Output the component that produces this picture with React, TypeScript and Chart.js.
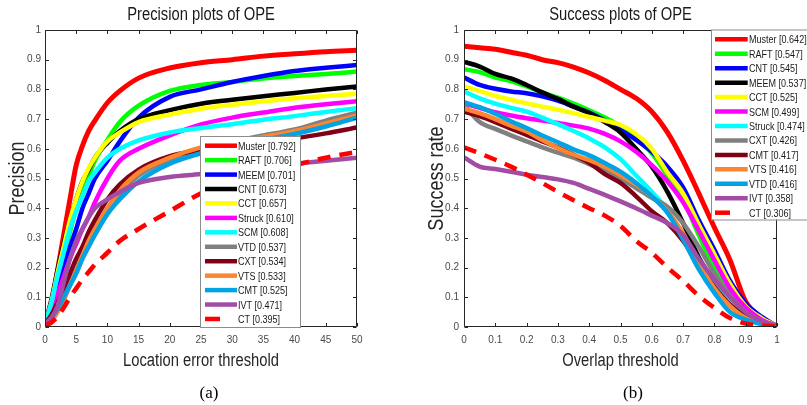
import React, { useEffect, useRef } from "react";
import { Chart, registerables } from "chart.js";

Chart.register(...registerables);

const SANS = "'Liberation Sans', Arial, Helvetica, sans-serif";
const SQUEEZE = 0.82; // the reference uses a narrow Helvetica-like face

// ---------- Precision plot (location error threshold) ----------
const precThresholds = [0, 1, 2, 3, 4, 5, 6, 7, 8, 10, 12, 15, 20, 25, 30, 35, 40, 45, 50];
const precMuster = [0.01, 0.07, 0.19, 0.31, 0.43, 0.545, 0.61, 0.66, 0.695, 0.755, 0.795, 0.838, 0.872, 0.89, 0.9, 0.912, 0.92, 0.927, 0.932];
const precRAFT = [0.01, 0.07, 0.15, 0.24, 0.32, 0.4, 0.46, 0.51, 0.56, 0.63, 0.69, 0.745, 0.795, 0.815, 0.825, 0.837, 0.845, 0.852, 0.86];
const precMEEM = [0.01, 0.05, 0.12, 0.2, 0.27, 0.33, 0.4, 0.45, 0.5, 0.56, 0.625, 0.705, 0.775, 0.8, 0.825, 0.845, 0.862, 0.873, 0.882];
const precCNT = [0.01, 0.09, 0.19, 0.28, 0.36, 0.43, 0.49, 0.53, 0.57, 0.62, 0.66, 0.7, 0.73, 0.752, 0.765, 0.777, 0.788, 0.8, 0.81];
const precCCT = [0.01, 0.08, 0.18, 0.27, 0.36, 0.43, 0.49, 0.535, 0.57, 0.625, 0.655, 0.69, 0.715, 0.735, 0.748, 0.76, 0.77, 0.778, 0.785];
const precStruck = [0.01, 0.05, 0.11, 0.17, 0.23, 0.28, 0.33, 0.37, 0.42, 0.5, 0.56, 0.6, 0.645, 0.682, 0.705, 0.722, 0.738, 0.75, 0.76];
const precSCM = [0.01, 0.08, 0.17, 0.25, 0.33, 0.39, 0.44, 0.49, 0.52, 0.57, 0.6, 0.628, 0.655, 0.67, 0.683, 0.698, 0.71, 0.724, 0.737];
const precVTD = [0.01, 0.03, 0.07, 0.11, 0.16, 0.2, 0.25, 0.29, 0.33, 0.4, 0.45, 0.51, 0.565, 0.6, 0.625, 0.645, 0.665, 0.695, 0.722];
const precCXT = [0.01, 0.04, 0.08, 0.13, 0.18, 0.23, 0.27, 0.32, 0.36, 0.43, 0.48, 0.53, 0.575, 0.595, 0.61, 0.622, 0.635, 0.652, 0.672];
const precVTS = [0.01, 0.02, 0.05, 0.09, 0.14, 0.19, 0.24, 0.29, 0.33, 0.4, 0.46, 0.52, 0.57, 0.605, 0.625, 0.64, 0.66, 0.685, 0.712];
const precCMT = [0.01, 0.03, 0.06, 0.1, 0.14, 0.18, 0.23, 0.27, 0.31, 0.38, 0.43, 0.49, 0.55, 0.585, 0.61, 0.63, 0.65, 0.675, 0.705];
const precIVT = [0.01, 0.03, 0.07, 0.15, 0.23, 0.29, 0.33, 0.37, 0.4, 0.43, 0.455, 0.485, 0.505, 0.515, 0.53, 0.54, 0.55, 0.56, 0.57];
const precCT = [0.005, 0.015, 0.035, 0.065, 0.1, 0.13, 0.16, 0.185, 0.21, 0.25, 0.29, 0.33, 0.39, 0.45, 0.49, 0.52, 0.545, 0.57, 0.59];

const precLegend = [
  "Muster [0.792]", "RAFT [0.706]", "MEEM [0.701]", "CNT [0.673]", "CCT [0.657]", "Struck [0.610]",
  "SCM [0.608]", "VTD [0.537]", "CXT [0.534]", "VTS [0.533]", "CMT [0.525]", "IVT [0.471]", "CT [0.395]",
];
const precSeries = [precMuster, precRAFT, precMEEM, precCNT, precCCT, precStruck, precSCM, precVTD, precCXT, precVTS, precCMT, precIVT, precCT];
const precXTicks = { min: 0, max: 50, step: 5 };

// ---------- Success plot (overlap threshold) ----------
const succThresholds = [0, 0.05, 0.1, 0.15, 0.2, 0.25, 0.3, 0.35, 0.4, 0.45, 0.5, 0.55, 0.6, 0.65, 0.7, 0.75, 0.8, 0.85, 0.9, 0.95, 1];
const succMuster = [0.945, 0.94, 0.935, 0.925, 0.915, 0.9, 0.89, 0.875, 0.855, 0.83, 0.8, 0.77, 0.725, 0.655, 0.56, 0.45, 0.335, 0.225, 0.085, 0.03, 0.003];
const succRAFT = [0.868, 0.858, 0.84, 0.828, 0.81, 0.79, 0.772, 0.752, 0.73, 0.705, 0.675, 0.635, 0.585, 0.51, 0.43, 0.31, 0.2, 0.115, 0.06, 0.02, 0.003];
const succCNT = [0.84, 0.815, 0.802, 0.793, 0.787, 0.777, 0.762, 0.742, 0.722, 0.695, 0.664, 0.63, 0.59, 0.54, 0.47, 0.36, 0.26, 0.155, 0.08, 0.035, 0.003];
const succMEEM = [0.893, 0.877, 0.852, 0.837, 0.815, 0.79, 0.768, 0.742, 0.72, 0.69, 0.655, 0.6, 0.54, 0.455, 0.35, 0.235, 0.15, 0.08, 0.04, 0.015, 0.002];
const succCCT = [0.81, 0.795, 0.778, 0.765, 0.753, 0.742, 0.732, 0.72, 0.707, 0.695, 0.68, 0.65, 0.6, 0.52, 0.45, 0.345, 0.245, 0.145, 0.07, 0.03, 0.003];
const succSCM = [0.753, 0.738, 0.723, 0.712, 0.703, 0.695, 0.687, 0.678, 0.668, 0.65, 0.625, 0.59, 0.545, 0.49, 0.42, 0.325, 0.225, 0.13, 0.065, 0.025, 0.003];
const succStruck = [0.793, 0.77, 0.752, 0.738, 0.725, 0.705, 0.683, 0.66, 0.635, 0.605, 0.565, 0.51, 0.455, 0.393, 0.305, 0.225, 0.15, 0.09, 0.045, 0.018, 0.002];
const succCXT = [0.748, 0.69, 0.667, 0.645, 0.625, 0.605, 0.587, 0.57, 0.548, 0.525, 0.5, 0.468, 0.435, 0.405, 0.35, 0.27, 0.18, 0.105, 0.05, 0.02, 0.002];
const succCMT = [0.725, 0.71, 0.69, 0.668, 0.647, 0.625, 0.605, 0.58, 0.553, 0.515, 0.485, 0.44, 0.39, 0.35, 0.29, 0.21, 0.135, 0.075, 0.035, 0.015, 0.002];
const succVTS = [0.735, 0.72, 0.7, 0.678, 0.658, 0.63, 0.603, 0.58, 0.562, 0.54, 0.512, 0.48, 0.44, 0.39, 0.315, 0.215, 0.13, 0.07, 0.03, 0.012, 0.002];
const succVTD = [0.757, 0.74, 0.718, 0.693, 0.67, 0.645, 0.622, 0.598, 0.578, 0.552, 0.523, 0.485, 0.44, 0.385, 0.295, 0.195, 0.115, 0.05, 0.025, 0.01, 0.002];
const succIVT = [0.571, 0.54, 0.532, 0.523, 0.513, 0.505, 0.497, 0.485, 0.465, 0.445, 0.423, 0.4, 0.375, 0.35, 0.31, 0.23, 0.16, 0.1, 0.05, 0.02, 0.002];
const succCT = [0.605, 0.585, 0.563, 0.54, 0.513, 0.485, 0.455, 0.427, 0.4, 0.375, 0.34, 0.29, 0.25, 0.2, 0.155, 0.105, 0.065, 0.03, 0.012, 0.005, 0.001];

const succLegend = [
  "Muster [0.642]", "RAFT [0.547]", "CNT [0.545]", "MEEM [0.537]", "CCT [0.525]", "SCM [0.499]",
  "Struck [0.474]", "CXT [0.426]", "CMT [0.417]", "VTS [0.416]", "VTD [0.416]", "IVT [0.358]", "CT [0.306]",
];
const succSeries = [succMuster, succRAFT, succCNT, succMEEM, succCCT, succSCM, succStruck, succCXT, succCMT, succVTS, succVTD, succIVT, succCT];
const succXTicks = { min: 0, max: 1, step: 0.1 };

const yTicks = { min: 0, max: 1, step: 0.1 };

// colour by rank (same in both plots)
const rankColors = [
  "#ff0000", "#00ff00", "#0000ff", "#000000", "#ffff00", "#ff00ff", "#00ffff",
  "#808080", "#800016", "#fd8530", "#00a3e4", "#a24ca6", "#ff0000",
];
const dashedRank = 12;

const fmt = (v: any) => String(Math.round(Number(v) * 10) / 10);

function squeezedText(ctx: any, text: string, x: number, y: number, size: number, rotate = false) {
  ctx.save();
  ctx.translate(x, y);
  if (rotate) ctx.rotate(-Math.PI / 2);
  ctx.scale(SQUEEZE, 1);
  ctx.font = `${size}px ${SANS}`;
  ctx.textAlign = "center";
  ctx.textBaseline = "alphabetic";
  ctx.fillText(text, 0, 0);
  ctx.restore();
}

const framePlugin = {
  id: "frameTicks",
  afterDatasetsDraw(chart: any) {
    const { ctx, chartArea: a, scales } = chart;
    ctx.save();
    ctx.strokeStyle = "#262626";
    ctx.lineWidth = 1;
    const L = Math.round(a.left) + 0.5;
    const R = Math.round(a.right) - 0.5;
    const T = Math.round(a.top) + 0.5;
    const B = Math.round(a.bottom) - 0.5;
    ctx.beginPath();
    ctx.rect(L, T, R - L, B - T);
    ctx.stroke();
    const tl = 3.5;
    ctx.beginPath();
    scales.x.ticks.forEach((t: any) => {
      const px = Math.round(scales.x.getPixelForValue(t.value)) + 0.5;
      ctx.moveTo(px, B);
      ctx.lineTo(px, B - tl);
      ctx.moveTo(px, T);
      ctx.lineTo(px, T + tl);
    });
    scales.y.ticks.forEach((t: any) => {
      const py = Math.round(scales.y.getPixelForValue(t.value)) + 0.5;
      ctx.moveTo(L, py);
      ctx.lineTo(L + tl, py);
      ctx.moveTo(R, py);
      ctx.lineTo(R - tl, py);
    });
    ctx.stroke();
    ctx.restore();
  },
};

interface LegendCfg {
  x: number; y: number; w: number; h: number;
  row0: number; step: number; s0: number; s1: number; tx: number;
}

interface TextCfg {
  title: string; xTitle: string; yTitle: string;
  titleBase: number; xTitleBase: number; yTitleBase: number;
}

function makeTextPlugin(t: TextCfg) {
  return {
    id: "squeezedTitles",
    afterDraw(chart: any) {
      const { ctx, chartArea: a } = chart;
      const cx = (a.left + a.right) / 2;
      const cy = (a.top + a.bottom) / 2;
      ctx.save();
      ctx.fillStyle = "#1a1a1a";
      squeezedText(ctx, t.title, cx, t.titleBase, 18);
      ctx.fillStyle = "#262626";
      squeezedText(ctx, t.xTitle, cx, t.xTitleBase, 18);
      squeezedText(ctx, t.yTitle, t.yTitleBase, cy, 22, true);
      ctx.restore();
    },
  };
}

function makeLegendPlugin(cfg: LegendCfg, labels: string[]) {
  return {
    id: "boxLegend",
    afterDraw(chart: any) {
      const { ctx } = chart;
      ctx.save();
      ctx.fillStyle = "#ffffff";
      ctx.fillRect(cfg.x, cfg.y, cfg.w, cfg.h);
      ctx.strokeStyle = "#8c8c8c";
      ctx.lineWidth = 1;
      ctx.strokeRect(cfg.x + 0.5, cfg.y + 0.5, cfg.w, cfg.h);
      labels.forEach((lab, i) => {
        const y = cfg.row0 + i * cfg.step;
        ctx.strokeStyle = rankColors[i];
        ctx.lineWidth = 4.5;
        ctx.lineCap = "butt";
        ctx.beginPath();
        ctx.moveTo(cfg.s0, y);
        ctx.lineTo(i === dashedRank ? cfg.s0 + 15 : cfg.s1, y);
        ctx.stroke();
        ctx.save();
        ctx.translate(cfg.tx, y + 4);
        ctx.scale(SQUEEZE, 1);
        ctx.font = `11px ${SANS}`;
        ctx.textAlign = "left";
        ctx.textBaseline = "alphabetic";
        ctx.fillStyle = "#1a1a1a";
        ctx.fillText(lab, 0, 0);
        ctx.restore();
      });
      ctx.restore();
    },
  };
}

interface PlotSpec {
  width: number;
  text: TextCfg;
  xs: number[];
  series: number[][];
  labels: string[];
  xTicks: { min: number; max: number; step: number };
  yAxisWidth: number;
  yTickPad: number;
  rightPad: number;
  legend: LegendCfg;
}

function buildConfig(p: PlotSpec): any {
  const datasets = p.series.map((vals, i) => ({
    label: p.labels[i],
    data: p.xs.map((x, j) => ({ x, y: vals[j] })),
    borderColor: rankColors[i],
    backgroundColor: rankColors[i],
    borderWidth: i === 0 ? 5 : 4.5,
    borderDash: i === dashedRank ? [13, 9] : [],
    pointRadius: 0,
    cubicInterpolationMode: "monotone",
    fill: false,
    order: p.series.length - i,
  }));
  return {
    type: "line",
    data: { datasets },
    plugins: [framePlugin, makeTextPlugin(p.text), makeLegendPlugin(p.legend, p.labels)],
    options: {
      responsive: false,
      animation: false,
      devicePixelRatio: 1,
      layout: { padding: { left: 0, right: p.rightPad, top: 30, bottom: 21 } },
      plugins: {
        legend: { display: false },
        tooltip: { enabled: false },
        title: { display: false },
      },
      scales: {
        x: {
          type: "linear",
          min: p.xTicks.min,
          max: p.xTicks.max,
          grid: { display: false, drawTicks: false },
          border: { display: false },
          ticks: {
            stepSize: p.xTicks.step,
            autoSkip: false,
            maxRotation: 0,
            padding: 7,
            color: "#4a4a4a",
            font: { family: SANS, size: 10 },
            callback: fmt,
          },
          title: { display: false },
          afterFit: (s: any) => {
            s.height = 57;
          },
        },
        y: {
          type: "linear",
          min: yTicks.min,
          max: yTicks.max,
          grid: { display: false, drawTicks: false },
          border: { display: false },
          ticks: {
            stepSize: yTicks.step,
            autoSkip: false,
            padding: p.yTickPad,
            color: "#4a4a4a",
            font: { family: SANS, size: 10 },
            callback: fmt,
          },
          title: { display: false },
          afterFit: (s: any) => {
            s.width = p.yAxisWidth;
          },
        },
      },
    },
  };
}

function Plot({ spec, left }: { spec: PlotSpec; left: number }) {
  const ref = useRef<HTMLCanvasElement | null>(null);
  useEffect(() => {
    if (!ref.current) return;
    const chart = new Chart(ref.current, buildConfig(spec));
    return () => chart.destroy();
  }, [spec]);
  return (
    <canvas
      ref={ref}
      width={spec.width}
      height={405}
      style={{ position: "absolute", left, top: 0, width: spec.width, height: 405 }}
    />
  );
}

const precSpec: PlotSpec = {
  width: 403,
  text: {
    title: "Precision plots of OPE",
    xTitle: "Location error threshold",
    yTitle: "Precision",
    titleBase: 19.5,
    xTitleBase: 366,
    yTitleBase: 24,
  },
  xs: precThresholds,
  series: precSeries,
  labels: precLegend,
  xTicks: precXTicks,
  yAxisWidth: 45,
  yTickPad: 4,
  rightPad: 46,
  legend: { x: 200, y: 136, w: 100, h: 191, row0: 145.7, step: 14.44, s0: 205, s1: 237, tx: 238 },
};

const succSpec: PlotSpec = {
  width: 404,
  text: {
    title: "Success plots of OPE",
    xTitle: "Overlap threshold",
    yTitle: "Success rate",
    titleBase: 19.5,
    xTitleBase: 366,
    yTitleBase: 40,
  },
  xs: succThresholds,
  series: succSeries,
  labels: succLegend,
  xTicks: succXTicks,
  yAxisWidth: 61,
  yTickPad: 5,
  rightPad: 30,
  legend: { x: 308, y: 29.5, w: 110, h: 190, row0: 39.3, step: 14.45, s0: 312, s1: 344.7, tx: 346 },
};

const captionStyle = (cx: number): React.CSSProperties => ({
  position: "absolute",
  left: cx - 30,
  top: 383,
  width: 60,
  lineHeight: "20px",
  textAlign: "center",
  fontFamily: "'Liberation Serif', 'Times New Roman', serif",
  fontSize: 17,
  color: "#000",
});

export default function App() {
  return (
    <div style={{ position: "absolute", left: 0, top: 0, width: 807, height: 405, background: "#fff", overflow: "hidden" }}>
      <Plot spec={precSpec} left={0} />
      <Plot spec={succSpec} left={403} />
      <div style={captionStyle(209)}>(a)</div>
      <div style={captionStyle(633)}>(b)</div>
    </div>
  );
}
